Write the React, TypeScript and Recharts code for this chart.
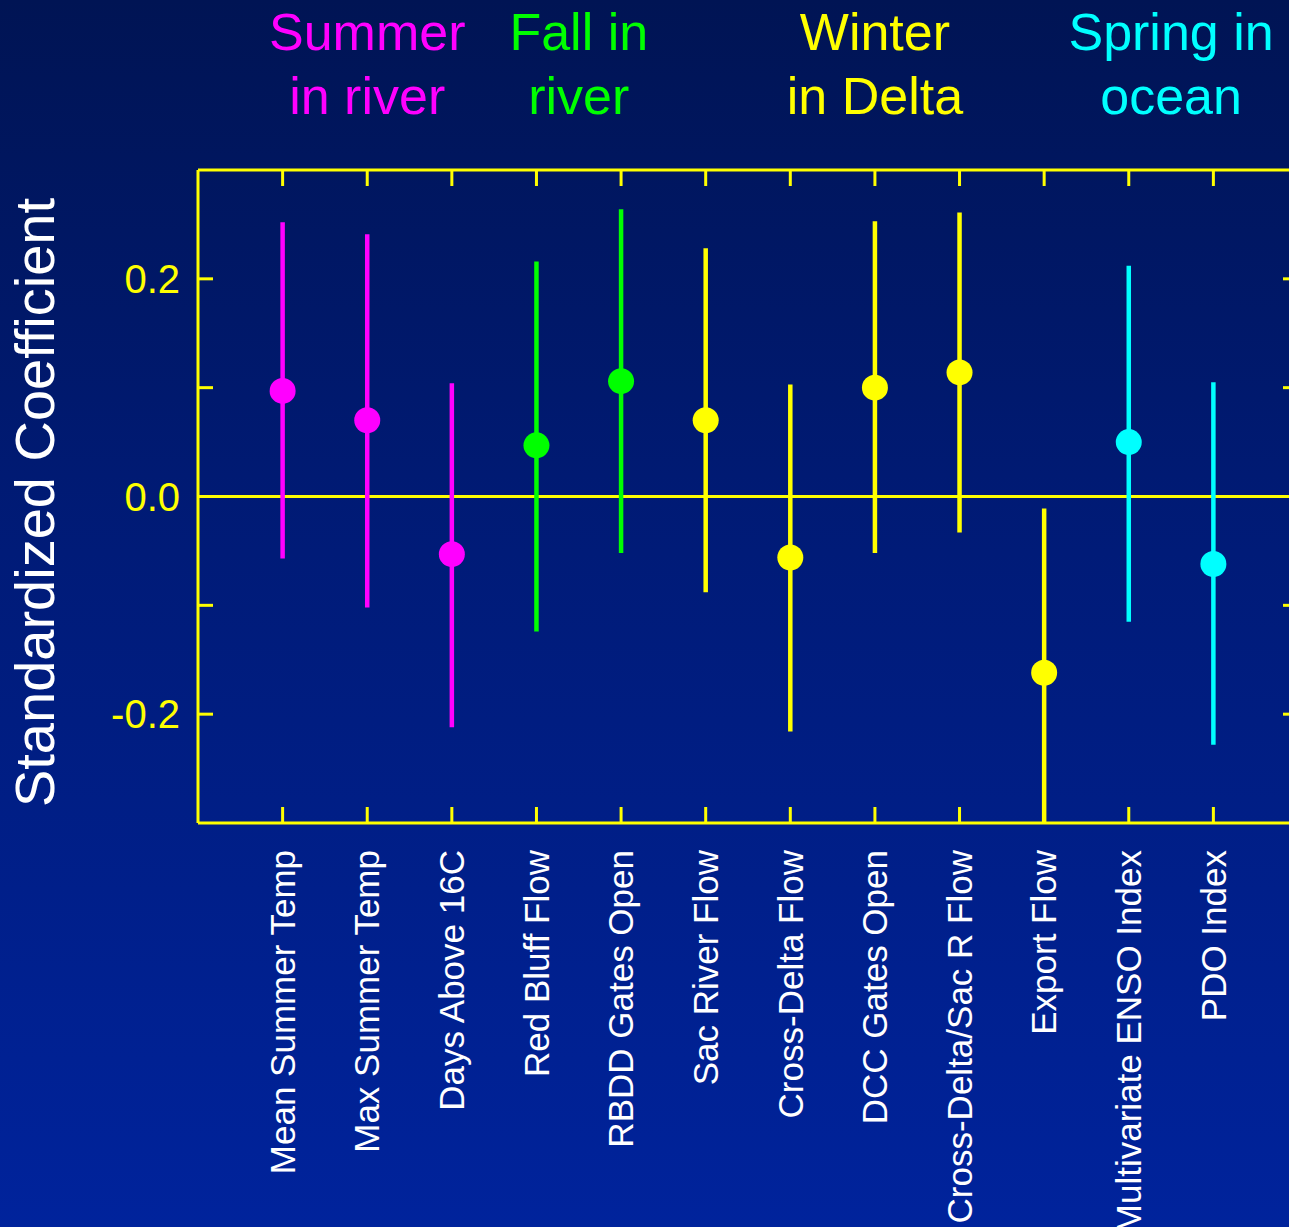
import React from "react";
import { ComposedChart, Scatter, ErrorBar, XAxis, YAxis, ReferenceLine, Label } from "recharts";

// predictors in plot order
const categories = [
    "Mean Summer Temp",
    "Max Summer Temp",
    "Days Above 16C",
    "Red Bluff Flow",
    "RBDD Gates Open",
    "Sac River Flow",
    "Cross-Delta Flow",
    "DCC Gates Open",
    "Cross-Delta/Sac R Flow",
    "Export Flow",
    "Multivariate ENSO Index",
    "PDO Index",
];
const estimates = [0.097, 0.07, -0.053, 0.047, 0.106, 0.07, -0.056, 0.1, 0.114, -0.162, 0.05, -0.062];
const lower = [-0.057, -0.102, -0.212, -0.124, -0.052, -0.088, -0.216, -0.052, -0.033, -0.3, -0.115, -0.228];
const upper = [0.252, 0.241, 0.104, 0.216, 0.264, 0.228, 0.103, 0.253, 0.261, -0.011, 0.212, 0.105];
const groupOf = [0, 0, 0, 1, 1, 2, 2, 2, 2, 2, 3, 3];

const groupLabels = [
    ["Summer", "in river"],
    ["Fall in", "river"],
    ["Winter", "in Delta"],
    ["Spring in", "ocean"],
];
const groupColors = ["#ff00ff", "#00ff00", "#ffff00", "#00ffff"];

const yTicks = [-0.2, -0.1, 0, 0.1, 0.2];
const yLabelTicks = [-0.2, 0, 0.2];

const FONT = "'Liberation Sans', Arial, sans-serif";
const YELLOW = "#ffff00";
const LINE = { stroke: YELLOW, strokeWidth: 3 };

const rows = categories.map((name, i) => ({
    x: i + 1,
    name,
    y: estimates[i],
    err: [estimates[i] - lower[i], upper[i] - estimates[i]],
    group: groupOf[i],
}));

const catTicks = rows.map((r) => r.x);

// centre of each group, in category units
const groupMid = groupLabels.map((_, g) => {
    const xs = rows.filter((r) => r.group === g).map((r) => r.x);
    return xs.reduce((a, b) => a + b, 0) / xs.length;
});

// top axis carries both the inward category ticks and the group headers
const topTicks = Array.from(new Set([...catTicks, ...groupMid])).sort((a, b) => a - b);

const CategoryTick = ({ x, y, payload }: any) => {
    const name = categories[payload.value - 1];
    if (!name) return <g />;
    return (
        <text
            x={x}
            y={y}
            transform={`rotate(-90 ${x} ${y})`}
            textAnchor="end"
            dy="0.35em"
            fill="#ffffff"
            fontSize={35}
            fontFamily={FONT}
        >
            {name}
        </text>
    );
};

const TopTick = ({ x, y, payload }: any) => {
    const v = payload.value;
    const g = groupMid.findIndex((m) => Math.abs(m - v) < 1e-9);
    const isCat = catTicks.some((c) => Math.abs(c - v) < 1e-9);
    return (
        <g>
            {isCat && <line x1={x} x2={x} y1={y} y2={y + 16} stroke={YELLOW} strokeWidth={3} />}
            {g >= 0 && (
                <text x={x} y={y} textAnchor="middle" fill={groupColors[g]} fontSize={52} fontFamily={FONT}>
                    <tspan x={x} dy={-120}>{groupLabels[g][0]}</tspan>
                    <tspan x={x} dy={64}>{groupLabels[g][1]}</tspan>
                </text>
            )}
        </g>
    );
};

const ValueTick = ({ x, y, payload }: any) => {
    if (!yLabelTicks.some((t) => Math.abs(t - payload.value) < 1e-9)) return <g />;
    return (
        <text x={x} y={y} textAnchor="end" dy="0.35em" fill={YELLOW} fontSize={40} fontFamily={FONT}>
            {payload.value.toFixed(1)}
        </text>
    );
};

const YTitle = ({ viewBox }: any) => {
    const tx = viewBox.x + 54;
    const ty = viewBox.y + viewBox.height / 2 + 6;
    return (
        <text
            x={tx}
            y={ty}
            transform={`rotate(-90 ${tx} ${ty})`}
            textAnchor="middle"
            fill="#ffffff"
            fontSize={56}
            fontFamily={FONT}
        >
            Standardized Coefficient
        </text>
    );
};

export default function App() {
    return (
        <div
            style={{
                position: "absolute",
                left: 0,
                top: 0,
                width: 1289,
                height: 1227,
                overflow: "hidden",
                background: "linear-gradient(180deg, #001454 0%, #001b78 45%, #00239c 100%)",
            }}
        >
            <ComposedChart width={1300} height={1227} margin={{ top: 0, right: 0, bottom: 0, left: 0 }}>
                <XAxis
                    xAxisId={0}
                    type="number"
                    dataKey="x"
                    domain={[0, 13]}
                    allowDataOverflow
                    ticks={catTicks}
                    interval={0}
                    height={404}
                    axisLine={LINE}
                    tickLine={LINE}
                    tickSize={-16}
                    tickMargin={43}
                    tick={<CategoryTick />}
                />
                <XAxis
                    xAxisId="top"
                    orientation="top"
                    type="number"
                    dataKey="x"
                    domain={[0, 13]}
                    allowDataOverflow
                    ticks={topTicks}
                    interval={0}
                    height={170}
                    axisLine={LINE}
                    tickLine={false}
                    tickSize={0}
                    tickMargin={0}
                    tick={<TopTick />}
                />
                <YAxis
                    type="number"
                    domain={[-0.3, 0.3]}
                    allowDataOverflow
                    ticks={yTicks}
                    interval={0}
                    width={198}
                    axisLine={LINE}
                    tickLine={LINE}
                    tickSize={-15}
                    tickMargin={33}
                    tick={<ValueTick />}
                >
                    <Label content={<YTitle />} />
                </YAxis>
                <YAxis
                    yAxisId="right"
                    orientation="right"
                    type="number"
                    domain={[-0.3, 0.3]}
                    allowDataOverflow
                    ticks={yTicks}
                    interval={0}
                    width={2}
                    axisLine={LINE}
                    tickLine={LINE}
                    tickSize={-15}
                    tick={() => <g />}
                />
                <ReferenceLine y={0} stroke={YELLOW} strokeWidth={3} />
                {/* invisible series so the top frame axis gets its scale */}
                <Scatter
                    xAxisId="top"
                    data={rows}
                    dataKey="y"
                    isAnimationActive={false}
                    shape={() => <g />}
                />
                {groupLabels.map((_, g) => (
                    <Scatter
                        key={g}
                        data={rows.filter((r) => r.group === g)}
                        dataKey="y"
                        fill={groupColors[g]}
                        isAnimationActive={false}
                        shape={(p: any) => <circle cx={p.cx} cy={p.cy} r={13} fill={groupColors[g]} />}
                    >
                        <ErrorBar
                            dataKey="err"
                            direction="y"
                            width={0}
                            stroke={groupColors[g]}
                            strokeWidth={4.5}
                            isAnimationActive={false}
                        />
                    </Scatter>
                ))}
            </ComposedChart>
        </div>
    );
}
